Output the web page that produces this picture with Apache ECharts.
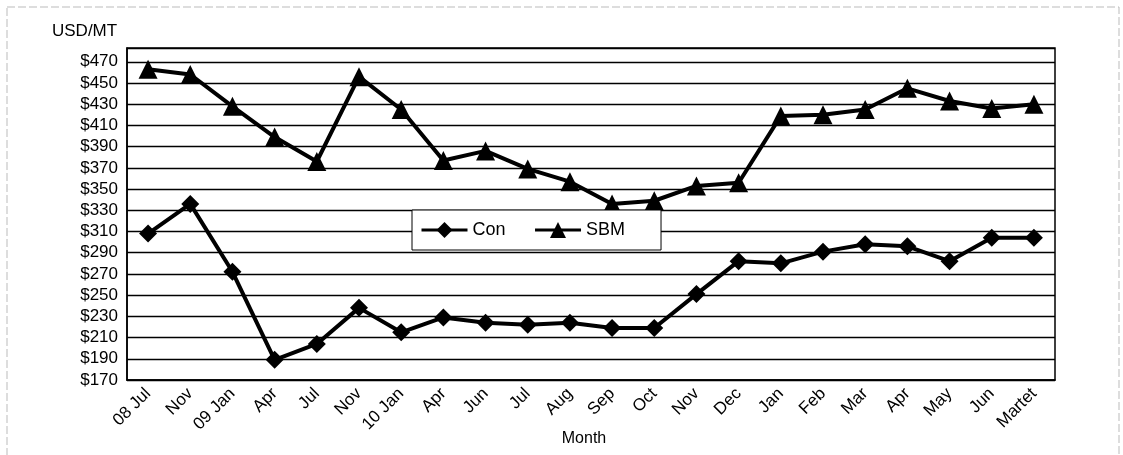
<!DOCTYPE html>
<html>
<head>
<meta charset="utf-8">
<script src="https://cdn.jsdelivr.net/npm/echarts@6/dist/echarts.min.js"></script>
<style>
html,body{margin:0;padding:0;background:#fff;}
#c{width:1123px;height:455px;}
</style>
</head>
<body>
<div id="c"></div>
<script>
const categories = ['08 Jul','Nov','09 Jan','Apr','Jul','Nov','10 Jan','Apr','Jun','Jul','Aug','Sep','Oct','Nov','Dec','Jan','Feb','Mar','Apr','May','Jun','Martet'];
const conValues = [308,336,272,189,204,238,215,229,224,222,224,219,219,251,282,280,291,298,296,282,304,304];
const sbmValues = [463,458,428,399,376,456,425,377,386,369,357,336,339,353,356,419,420,425,445,433,426,430];
const yTickValues = [170,190,210,230,250,270,290,310,330,350,370,390,410,430,450,470];

const FONT = 'Liberation Sans';
const chart = echarts.init(document.getElementById('c'));
chart.setOption({
  backgroundColor: '#fff',
  animation: false,
  textStyle: {fontFamily: FONT, color: '#000'},
  grid: {left: 127, right: 68, top: 48, bottom: 75, show: true, borderColor: '#000', borderWidth: 1.5, backgroundColor: '#fff',
         containLabel: false, outerBoundsMode: 'none'},
  legend: {
    left: 412, top: 210,
    backgroundColor: '#fff', borderColor: '#000', borderWidth: 1,
    padding: [11, 36, 11, 8], itemGap: 28, itemWidth: 46, itemHeight: 20,
    lineStyle: {width: 3, color: '#000'},
    textStyle: {fontFamily: FONT, fontSize: 18, color: '#000'},
    data: ['Con', 'SBM']
  },
  xAxis: {
    type: 'category', data: categories, boundaryGap: true,
    name: 'Month', nameLocation: 'middle', nameGap: 51, nameMoveOverlap: false,
    nameTextStyle: {fontFamily: FONT, fontSize: 16, color: '#000', padding: [0, 14, 0, 0]},
    axisLine: {lineStyle: {color: '#000', width: 1.5}},
    axisTick: {inside: true, length: 6, lineStyle: {color: '#000', width: 1.2}},
    axisLabel: {interval: 0, rotate: 45, fontFamily: FONT, fontSize: 17, color: '#000', margin: 11}
  },
  yAxis: {
    type: 'value', min: 170, max: 483, interval: 20,
    axisLine: {show: true, lineStyle: {color: '#000', width: 1.5}},
    axisTick: {show: false},
    axisLabel: {
      fontFamily: FONT, fontSize: 17, color: '#000', margin: 9, showMaxLabel: false,
      formatter: function (v) { return yTickValues.indexOf(v) >= 0 ? '$' + v : ''; }
    },
    splitLine: {show: true, lineStyle: {color: '#000', width: 1.3}}
  },
  graphic: [
    {type: 'text', left: 52, top: 23, style: {text: 'USD/MT', font: '17px "Liberation Sans"', fill: '#000'}},
    {type: 'rect', shape: {x: 7, y: 7, width: 1112, height: 460}, style: {fill: 'none', stroke: '#bbb', lineWidth: 1, lineDash: [8, 3]}, silent: true, z: -1}
  ],
  series: [
    {name: 'Con', type: 'line', data: conValues, symbol: 'diamond', symbolSize: 18,
     lineStyle: {color: '#000', width: 4}, itemStyle: {color: '#000'}},
    {name: 'SBM', type: 'line', data: sbmValues, symbol: 'triangle', symbolSize: 19,
     lineStyle: {color: '#000', width: 4}, itemStyle: {color: '#000'}}
  ]
});
</script>
</body>
</html>
